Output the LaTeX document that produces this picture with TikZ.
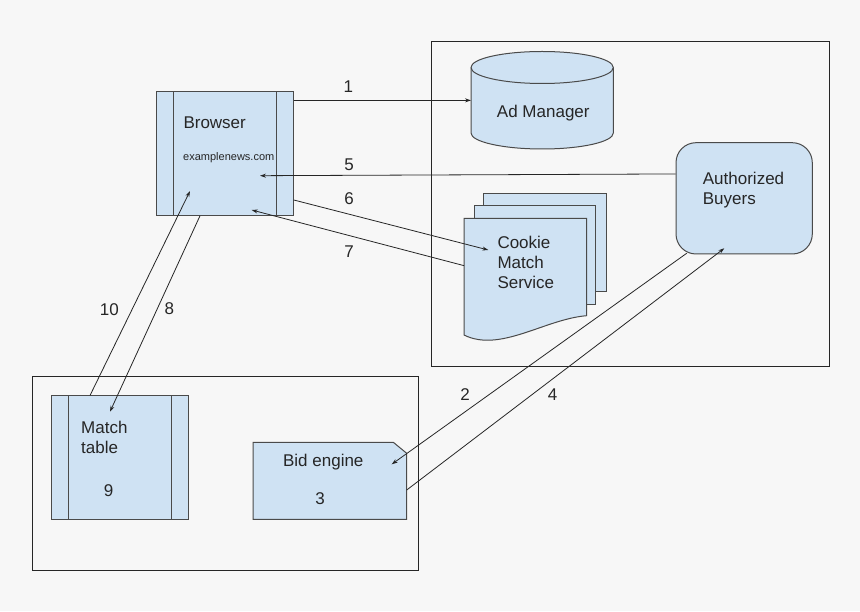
\documentclass[tikz,border=0pt]{standalone}
\usepackage{fontspec}
\setmainfont{Liberation Sans}
\usetikzlibrary{arrows.meta,positioning,calc}

\definecolor{bgcol}{HTML}{F7F7F7}
\definecolor{boxfill}{HTML}{CFE2F3}
\definecolor{boxline}{HTML}{4A4A4A}
\definecolor{frameline}{HTML}{262626}

\tikzset{
  shapebox/.style={draw=boxline, fill=boxfill, line width=1pt},
  ghost/.style={inner sep=0pt, outer sep=0pt},
  framebox/.style={draw=frameline, line width=0.9pt},
  bar/.style={draw=boxline, line width=1pt},
  flow/.style={->, draw=frameline, line width=0.8pt},
  txt/.style={font=\fontsize{17}{20}\selectfont, text=black!85, inner sep=0pt},
  smalltxt/.style={font=\fontsize{11}{13}\selectfont, text=black!85, inner sep=0pt},
}

\begin{document}
\begin{tikzpicture}[x=1pt, y=1pt, >={Stealth[length=6pt,width=4pt]}]
                % Canvas
                \fill[bgcol] (0,0) rectangle (860,611);
                \useasboundingbox (0,0) rectangle (860,611);

                % Frames
                \draw[framebox] (431,245) rectangle (829,570);
                \draw[framebox] (32,41) rectangle (418,235);

                % Browser
                \node[shapebox, minimum width=136.6pt, minimum height=123.6pt] (browser) at (225,457.5) {};
                \draw[bar] ([xshift=17.3pt]browser.north west) -- ([xshift=17.3pt]browser.south west);
                \draw[bar] ([xshift=-17pt]browser.north east) -- ([xshift=-17pt]browser.south east);
                \node[txt, anchor=base west] (tbrowser) at (183.3,482.7) {Browser};
                \node[smalltxt, anchor=base west] (turl) at (183,450) {examplenews.com};

                % Ad Manager (cylinder)
                \node[ghost, minimum width=142.3pt, minimum height=97.3pt] (admgr) at (542.15,510.65) {};
                \draw[shapebox] (471,543.5) -- (471,478)
                    arc[start angle=180, end angle=360, x radius=71.15pt, y radius=16pt]
                    -- (613.3,543.5)
                    arc[start angle=0, end angle=180, x radius=71.15pt, y radius=16pt] -- cycle;
                \draw[bar] (471,543.5) arc[start angle=180, end angle=360, x radius=71.15pt, y radius=16pt];
                \node[txt, anchor=base] (tadmgr) at (543.3,493.7) {Ad Manager};

                % Cookie Match Service (stacked documents)
                \node[ghost, minimum width=122.7pt, minimum height=116.7pt] (cookie) at (525.35,334.35) {};
                \draw[shapebox] (483.3,319.3) rectangle (606.7,417.7);
                \draw[shapebox] (474.3,306.7) rectangle (595.7,405.3);
                \draw[shapebox] (464,276) -- (464,392.7) -- (586.7,392.7) -- (586.7,295.3)
                    .. controls (545,292) and (500,258) .. (464,276) -- cycle;
                \node[txt, anchor=base west, align=left] (tcookie) at (497.3,322) {Cookie\\Match\\Service};

                % Authorized Buyers
                \node[shapebox, rounded corners=20pt, minimum width=136.3pt, minimum height=111.3pt] (abuyers) at (744.15,412.65) {};
                \node[txt, anchor=base west, align=left] (tbuyers) at (702.7,406.7) {Authorized\\Buyers};

                % Match table
                \node[shapebox, minimum width=137pt, minimum height=123.3pt] (mtable) at (119.8,153.35) {};
                \draw[bar] ([xshift=17.7pt]mtable.north west) -- ([xshift=17.7pt]mtable.south west);
                \draw[bar] ([xshift=-17pt]mtable.north east) -- ([xshift=-17pt]mtable.south east);
                \node[txt, anchor=base west, align=left] (tmatch) at (81,157.3) {Match\\table};
                \node[txt, anchor=base] (tnine) at (108.7,114.3) {9};

                % Bid engine (snipped corner)
                \node[ghost, minimum width=153.7pt, minimum height=77pt] (bideng) at (329.85,130.2) {};
                \draw[shapebox] (bideng.south west) -- (bideng.north west) -- ([xshift=-13.4pt]bideng.north east)
                    -- ([yshift=-11pt]bideng.north east) -- (bideng.south east) -- cycle;
                \node[txt, anchor=base] (tbid) at (323.3,144.3) {Bid engine};
                \node[txt, anchor=base] (tthree) at (320,106.7) {3};

                % Free ends of connectors
                \coordinate (p5) at (260,435.3);
                \coordinate (p6) at (488.3,361);
                \coordinate (p7) at (251.7,401);
                \coordinate (p2) at (391.7,146.7);
                \coordinate (p4) at (724.3,362.7);
                \coordinate (p10) at (190,420);
                \coordinate (p8) at (110,199.3);

                % Connectors
                \draw[flow] (browser.east |- admgr.west) -- (admgr.west);
                \draw[flow] ([yshift=24.4pt]abuyers.west) -- (p5);
                \draw[flow] ([yshift=-46.5pt]browser.east) -- (p6);
                \draw[flow] ([yshift=11pt]cookie.west) -- (p7);
                \draw[flow] ([shift={(11.3pt,1.3pt)}]abuyers.south west) -- (p2);
                \draw[flow] ([yshift=-9.2pt]bideng.east) -- (p4);
                \draw[flow] ([xshift=-29.8pt]mtable.north) -- (p10);
                \draw[flow] ([xshift=-25pt]browser.south) -- (p8);

                % Step numbers
                \node[txt] (n1) at (348.3,524.3) {1};
                \node[txt] (n5) at (349,446.2) {5};
                \node[txt] (n6) at (349,412.8) {6};
                \node[txt] (n7) at (349,359.5) {7};
                \node[txt] (n2) at (465,216.8) {2};
                \node[txt] (n4) at (552.7,216.8) {4};
                \node[txt] (n10) at (109.3,301) {10};
                \node[txt] (n8) at (169.3,302.2) {8};
\end{tikzpicture}
\end{document}
